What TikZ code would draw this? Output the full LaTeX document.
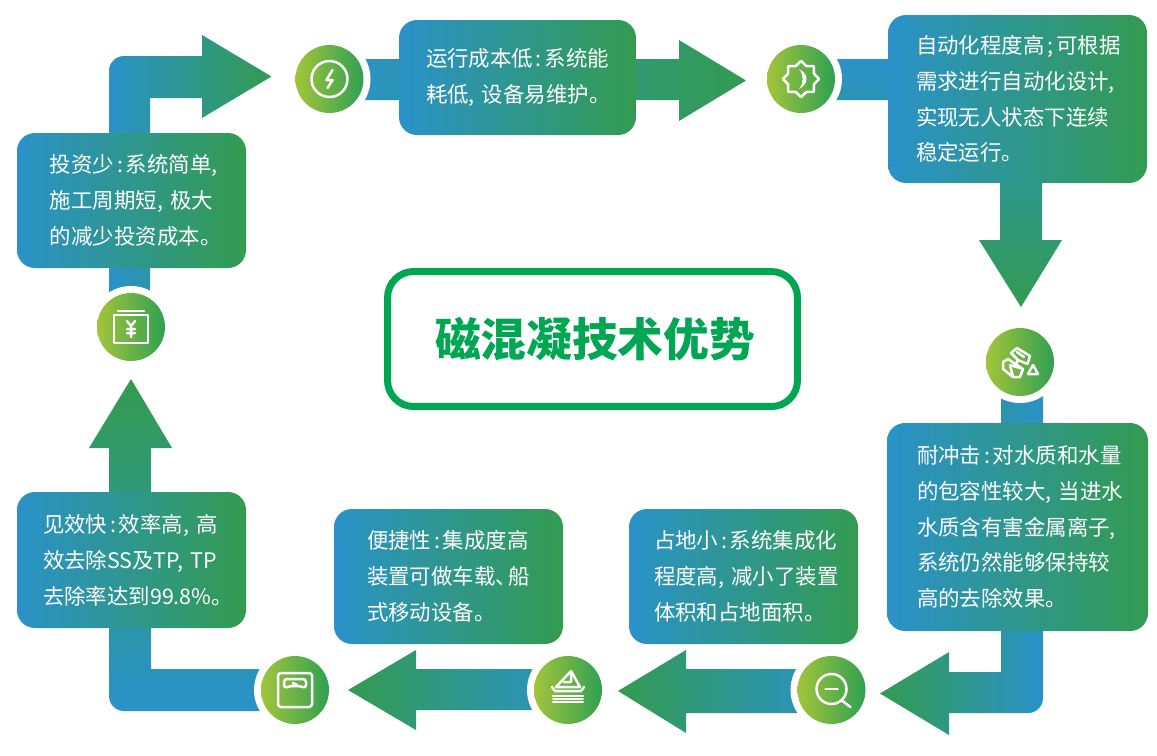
\documentclass[tikz,border=0pt]{standalone}
\usepackage{fontspec}
\setmainfont{Noto Sans CJK SC}
\usepackage{xcolor}
\usetikzlibrary{backgrounds}
\definecolor{flowblue}{HTML}{2A92C9}
\definecolor{flowgreen}{HTML}{339B50}
\definecolor{badgelime}{HTML}{A2C53A}
\definecolor{badgegreen}{HTML}{2FA052}
\definecolor{titlegreen}{HTML}{00A651}
\newcommand{\pgap}{\kern.13em}
\tikzset{
    tipbox/.style n args={3}{rounded corners=.36cm, left color=flowblue, right color=flowgreen,
        minimum width={#1*0.02cm}, minimum height={#2*0.02cm}, text width={(#1-2*#3)*0.02cm},
        inner xsep={#3*0.02cm}, inner ysep=0pt, outer sep=0pt, align=left, text=white,
        font=\fontsize{12.2}{20.4}\selectfont},
    badge/.style={circle, minimum size=1.36cm, inner sep=0pt, outer sep=0pt,
        preaction={draw=white, line width=.28cm}, left color=badgelime, right color=badgegreen},
    flowright/.style={left color=flowblue, right color=flowgreen},
    flowleft/.style={left color=flowgreen, right color=flowblue},
    flowdown/.style={top color=flowblue, bottom color=flowgreen},
    flowup/.style={top color=flowgreen, bottom color=flowblue},
    iconline/.style={draw=white, line width=.05cm, line join=round, line cap=round},
}

\begin{document}
\begin{tikzpicture}[x=.02cm, y=-.02cm]
    \useasboundingbox (0,0) rectangle (1157,755);
    % title
    \node[draw=titlegreen, line width=.14cm, rounded corners=.52cm, minimum width=8.2cm, minimum height=2.7cm,
        text=titlegreen, font=\fontsize{26}{30}\selectfont\bfseries] (title) at (592.5,339) {\kern.1cm{}磁混凝技术优势};
    % text boxes
    \node[tipbox={229}{135}{33}] (investbox) at (131.5,200.5) {投资少\pgap{}:\pgap{}系统简单,\\施工周期短,~极大\\的减少投资成本。};
    \node[tipbox={237}{115}{27}] (runbox) at (517.5,77.5) {运行成本低\pgap{}:\pgap{}系统能\\耗低,~设备易维护。};
    \node[tipbox={259}{168}{28}] (autobox) at (1017.5,99) {自动化程度高\pgap{};\pgap{}可根据\\需求进行自动化设计,\\实现无人状态下连续\\稳定运行。};
    \node[tipbox={261}{208}{30}] (impactbox) at (1017.5,527) {耐冲击\pgap{}:\pgap{}对水质和水量\\的包容性较大,~当进水\\水质含有害金属离子,\\系统仍然能够保持较\\高的去除效果。};
    \node[tipbox={229}{135}{25}] (areabox) at (743.5,576.5) {占地小\pgap{}:\pgap{}系统集成化\\程度高,~减小了装置\\体积和占地面积。};
    \node[tipbox={229}{135}{33}] (carrybox) at (448.5,576.5) {便捷性\pgap{}:\pgap{}集成度高\\装置可做车载、\kern-.42em{}船\\式移动设备。};
    \node[tipbox={229}{136}{26}] (quickbox) at (131.5,560) {见效快\pgap{}:\pgap{}效率高,~高\\效去除SS及TP,~TP\\去除率达到99.8\%。};
    % badges
    \node[badge] (cash) at (131,327) {};
    \node[badge] (bolt) at (329.5,79) {};
    \node[badge] (sun) at (801,79) {};
    \node[badge] (gold) at (1020,362) {};
    \node[badge] (lens) at (831.5,690) {};
    \node[badge] (boat) at (568,690) {};
    \node[badge] (scale) at (295,690) {};
    % arrow tips
    \coordinate (tipbolt) at (271.5,76.5);
    \coordinate (tipsun) at (746,80.5);
    \coordinate (tipgold) at (1021,307);
    \coordinate (tiplens) at (880,693.5);
    \coordinate (tipboat) at (618,691);
    \coordinate (tipscale) at (348,690);
    \coordinate (tipcash) at (131,379);
    % arrows
    \begin{pgfonlayer}{background}
    \path[flowright] (cash.center) ++(-22,0) [rounded corners=.3cm] -- ++(0,-271) [sharp corners] -- ++(93,0)
        -- ++(0,-21) -- (tipbolt) -- ++(-69.5,41.5) -- ++(0,-20) -- ++(-52,0) -- ++(0,229) -- cycle;
    \path[flowright] (bolt.center) ++(0,-20) -- ++(349.5,0) -- ++(0,-19) -- (tipsun) -- ++(-67,40.5)
        -- ++(0,-21) -- ++(-349.5,0) -- cycle;
    \path[flowdown] (sun.center) ++(0,-20) [rounded corners=.3cm] -- ++(241,0) [sharp corners] -- ++(0,181)
        -- ++(20,0) -- (tipgold) -- ++(-42,-67) -- ++(21,0) -- ++(0,-140) -- ++(-199,0) -- cycle;
    \path[flowleft] (gold.center) ++(23,0) [rounded corners=.3cm] -- ++(0,351) [sharp corners] -- ++(-94,0)
        -- ++(0,22) -- (tiplens) -- ++(69,-41.5) -- ++(0,20) -- ++(52,0) -- ++(0,-310) -- cycle;
    \path[flowleft] (lens.center) ++(0,-21) -- ++(-145.5,0) -- ++(0,-19) -- (tipboat) -- ++(68,42)
        -- ++(0,-20) -- ++(145.5,0) -- cycle;
    \path[flowleft] (boat.center) ++(0,-21) -- ++(-152,0) -- ++(0,-19) -- (tipscale) -- ++(68,40)
        -- ++(0,-20) -- ++(152,0) -- cycle;
    \path[flowup] (scale.center) ++(0,21) [rounded corners=.3cm] -- ++(-186,0) [sharp corners] -- ++(0,-263)
        -- ++(-20,0) -- (tipcash) -- ++(41,69) -- ++(-21,0) -- ++(0,221) -- ++(144,0) -- cycle;
    \end{pgfonlayer}
    % icons
    \begin{scope}[shift={(cash.center)}, iconline]
        \draw (-17,-12) rectangle (17,16);
        \draw (-13,-16) -- (13,-16);
        \draw (-4,-6) -- (0,-1) -- (4,-6) (0,-1) -- (0,10) (-4,2) -- (4,2) (-4,6) -- (4,6);
    \end{scope}
    \begin{scope}[shift={(bolt.center)}, iconline]
        \draw (0,0) circle (18);
        \draw (3,-9) -- (-3,1) -- (3,1) -- (-2,9);
    \end{scope}
    \begin{scope}[shift={(sun.center)}, iconline]
        \foreach \a in {0,45,...,315}
            \draw (\a:18) -- (\a+22.5:14) -- (\a+45:18);
        \fill[white] (-2,-10) .. controls (8,-5) and (8,5) .. (-2,10) .. controls (3,4) and (3,-4) .. cycle;
    \end{scope}
    \begin{scope}[shift={(gold.center)}, iconline]
        \draw (-9,-9) -- (-3,-14) -- (10,-6) -- (7.5,2) -- (-2,-2) -- cycle (-2,-2) -- (-4,2) (-3,-10) -- (4,-5);
        \draw (-17,0) -- (-12,-3) -- (3,7) -- (0,15) -- (-7,15) -- (-17,7) -- cycle (3,7) -- (-10,3) -- (-7,15);
        \draw (8,12) -- (13,3) -- (18,12) -- cycle;
    \end{scope}
    \begin{scope}[shift={(lens.center)}, iconline]
        \draw (0,-1) circle (15);
        \draw (-6,-1) -- (6,-1);
        \draw (11,11) -- (19,17);
    \end{scope}
    \begin{scope}[shift={(boat.center)}, iconline]
        \draw (3,-19) -- (-12,-3) -- (12,-3) -- cycle;
        \draw (-16,-3) -- (-13,1) -- (13,1) -- (16,-3) (3,-19) -- (3,-8) -- (-4,-8);
        \draw (-15,6) -- (15,6) (-15,12) -- (15,12);
        \draw[line width=.03cm] (-15,9) -- (15,9);
    \end{scope}
    \begin{scope}[shift={(scale.center)}, iconline]
        \draw[rounded corners=.06cm] (-17,-17) rectangle (17,17);
        \draw[rounded corners=.06cm] (-11,-11) -- (11,-11) -- (11,-2) -- (4,-4) -- (-4,-4) -- (-11,-2) -- cycle;
        \draw (-2,-4) -- (-2,-7) -- (2,-5);
    \end{scope}
\end{tikzpicture}
\end{document}
